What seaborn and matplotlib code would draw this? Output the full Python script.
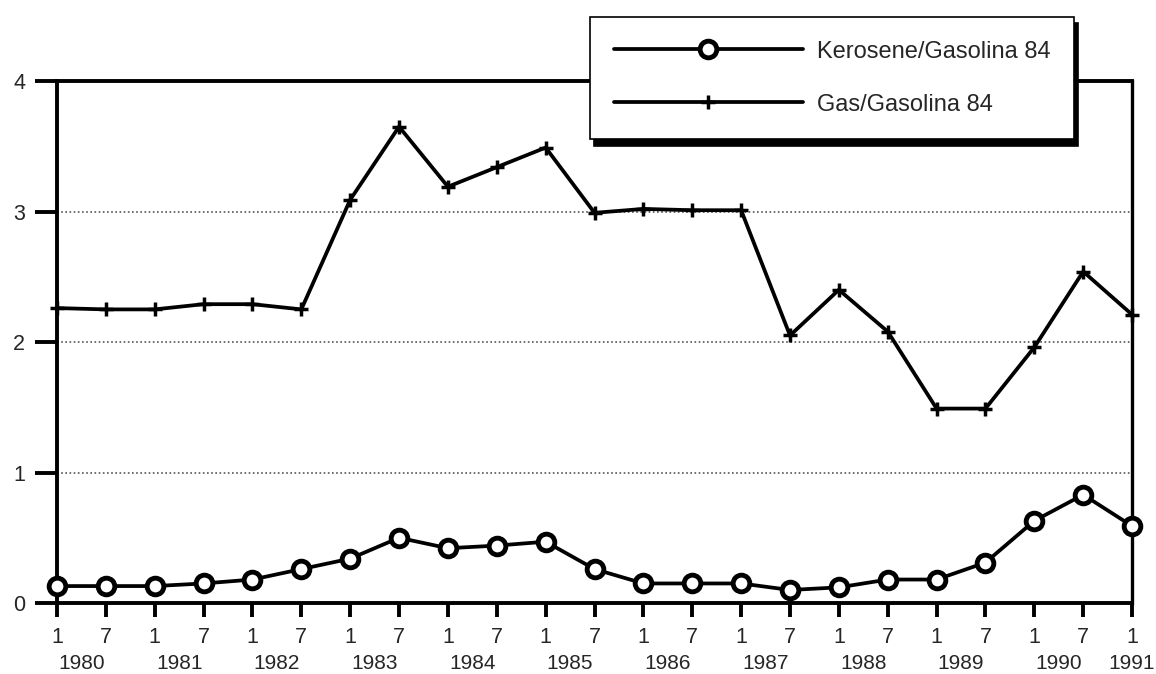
import numpy as np
import pandas as pd
import seaborn as sns
import matplotlib.pyplot as plt
from matplotlib.transforms import blended_transform_factory

# half-year periods, Jan 1980 .. Jan 1991
months = ["1", "7"] * 11 + ["1"]
years = [str(y) for y in range(1980, 1992)]

kerosene = [0.13, 0.13, 0.13, 0.15, 0.18, 0.26, 0.34, 0.50, 0.42, 0.44, 0.47, 0.26,
            0.15, 0.15, 0.15, 0.10, 0.12, 0.18, 0.18, 0.31, 0.63, 0.83, 0.59]
gas = [2.26, 2.25, 2.25, 2.29, 2.29, 2.25, 3.09, 3.65, 3.19, 3.34, 3.49, 2.99,
       3.02, 3.01, 3.01, 2.05, 2.40, 2.08, 1.49, 1.49, 1.96, 2.54, 2.21]

sns.set_style("white")
plt.rcParams['font.family'] = ['Liberation Sans', 'DejaVu Sans']

df = pd.DataFrame({"t": np.arange(len(months)), "kero": kerosene, "gas": gas})

fig = plt.figure(figsize=(11.56, 6.74), dpi=100)
ax = fig.add_axes([0.0493, 0.1053, 0.930, 0.7745])

sns.lineplot(data=df, x="t", y="kero", ax=ax, color="black", linewidth=2.7,
             marker="o", markersize=12, markerfacecolor="white",
             markeredgecolor="black", markeredgewidth=3.5,
             label="Kerosene/Gasolina 84", clip_on=False, zorder=5)
sns.lineplot(data=df, x="t", y="gas", ax=ax, color="black", linewidth=2.7,
             marker="+", markersize=10, markeredgewidth=2.5,
             markeredgecolor="black",
             label="Gas/Gasolina 84", clip_on=False, zorder=5)

ax.set_xlim(0, len(months) - 1)
ax.set_ylim(0, 4)
ax.set_xticks(df["t"])
ax.set_xticklabels(months)
ax.set_yticks([0, 1, 2, 3, 4])
ax.set_yticklabels(["0", "1", "2", "3", "4"])
ax.set_xlabel("")
ax.set_ylabel("")

ax.tick_params(axis="y", left=True, length=16, width=2.8, pad=7,
               labelsize=15.5, color="black")
ax.tick_params(axis="x", bottom=True, length=10, width=2.8, pad=7,
               labelsize=15.5, color="black")

for s in ["left", "bottom", "top"]:
    ax.spines[s].set_linewidth(2.8)
    ax.spines[s].set_color("black")
ax.spines["right"].set_linewidth(2.4)
ax.spines["right"].set_color("black")

for yv in [1, 2, 3]:
    ax.axhline(yv, color="#555555", linestyle=(0, (1, 1.5)), linewidth=1.2, zorder=1)

# year labels under the month ticks
trans = blended_transform_factory(ax.transData, ax.transAxes)
for i, yr in enumerate(years):
    xpos = 2 * i + 0.5 if i < len(years) - 1 else 2 * i
    ax.text(xpos, -0.1345, yr, transform=trans, ha="center", va="bottom",
            fontsize=15)

leg = ax.legend(loc="upper left", bbox_to_anchor=(0.5104, 0.9748 - 0.18, 0.4187, 0.18),
                bbox_transform=fig.transFigure, mode="expand", borderaxespad=0,
                handlelength=8.0, handletextpad=0.62, labelspacing=1.32,
                borderpad=1.0, fontsize=17, frameon=True, fancybox=False,
                shadow={"ox": 3.2, "oy": -4.5, "color": "black", "alpha": 1})
leg.get_frame().set_edgecolor("black")
leg.get_frame().set_linewidth(1.2)
leg.set_zorder(10)

fig.savefig("out.png", dpi=100, facecolor="white")
